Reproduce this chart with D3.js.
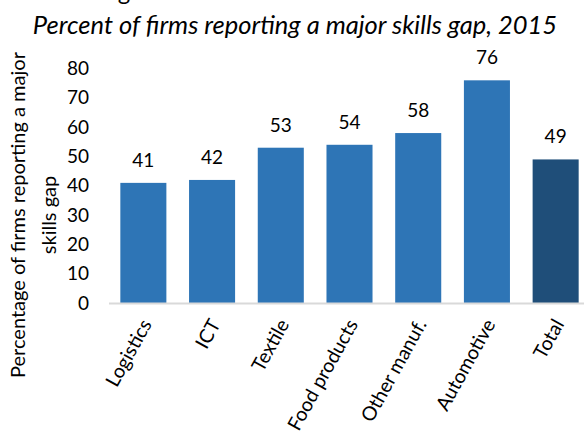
<!DOCTYPE html>
<html>
<head>
<meta charset="utf-8">
<script src="https://cdn.jsdelivr.net/npm/d3@7"></script>
<style>
  html, body { margin: 0; padding: 0; background: #fff; }
  svg { display: block; font-family: Lato, "Open Sans", sans-serif; }
</style>
</head>
<body>
<svg id="chart" width="584" height="436"></svg>
<script>
// Sectors and share of firms reporting a major skills gap (%)
const categories = ["Logistics", "ICT", "Textile", "Food products", "Other manuf.", "Automotive", "Total"];
const values = [41, 42, 53, 54, 58, 76, 49];
const yTicks = [0, 10, 20, 30, 40, 50, 60, 70, 80];
const titleText = "Percent of firms reporting a major skills gap, 2015";
const yTitleLines = ["Percentage of firms reporting a major", "skills gap"];

const svg = d3.select("#chart");
const baseY = 303;

const x = d3.scaleBand()
  .domain(categories)
  .range([109, 590])
  .paddingInner(0.33)
  .paddingOuter(0.165);

const y = d3.scaleLinear()
  .domain([0, 80])
  .range([baseY, baseY - 80 * 2.93]);

// cut-off heading line above the subtitle
svg.append("text")
  .attr("x", 124).attr("y", 0)
  .attr("text-anchor", "middle")
  .attr("font-size", 24)
  .attr("fill", "#000")
  .text("g");

svg.append("text")
  .attr("x", 295).attr("y", 34)
  .attr("text-anchor", "middle")
  .attr("font-size", 25.5)
  .attr("font-style", "italic")
  .attr("fill", "#000")
  .text(titleText);

// y axis tick labels (no axis line)
const yAxis = d3.axisLeft(y).tickValues(yTicks).tickSize(0).tickPadding(0);
const yg = svg.append("g").attr("transform", "translate(89,0)").call(yAxis);
yg.select(".domain").remove();
yg.selectAll("text")
  .attr("font-family", "Lato, 'Open Sans', sans-serif")
  .attr("font-size", 19)
  .attr("fill", "#000");

// y axis title, two rotated lines
yTitleLines.forEach((t, i) => {
  svg.append("text")
    .attr("transform", `translate(${25 + i * 31},215) rotate(-90)`)
    .attr("text-anchor", "middle")
    .attr("font-size", 20)
    .attr("fill", "#000")
    .text(t);
});

// bars
svg.append("g").selectAll("rect")
  .data(categories)
  .join("rect")
  .attr("x", d => x(d))
  .attr("width", x.bandwidth())
  .attr("y", (d, i) => y(values[i]))
  .attr("height", (d, i) => baseY - y(values[i]))
  .attr("fill", d => d === "Total" ? "#1F4E79" : "#2E75B6");

// value labels
svg.append("g").selectAll("text")
  .data(categories)
  .join("text")
  .attr("x", d => x(d) + x.bandwidth() / 2)
  .attr("y", (d, i) => y(values[i]) - 16)
  .attr("text-anchor", "middle")
  .attr("font-size", 19)
  .attr("fill", "#000")
  .text((d, i) => values[i]);

// x axis baseline and rotated category labels
const xAxis = d3.axisBottom(x).tickSize(0).tickPadding(0);
const xg = svg.append("g").attr("transform", `translate(0,${baseY})`).call(xAxis);
xg.select(".domain")
  .attr("d", `M109,0.5H584`)
  .attr("stroke", "#D9D9D9")
  .attr("stroke-width", 2);
xg.selectAll(".tick text")
  .attr("font-family", "Lato, 'Open Sans', sans-serif")
  .attr("font-size", 19.5)
  .attr("fill", "#000")
  .attr("text-anchor", "end")
  .attr("dy", null)
  .attr("transform", "translate(9,21) rotate(-61)");
</script>
</body>
</html>
